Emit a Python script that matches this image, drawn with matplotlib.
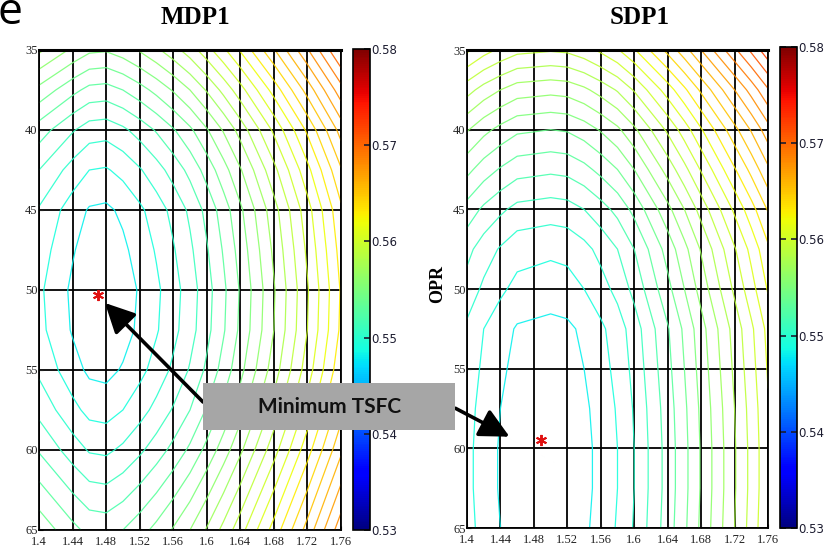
import numpy as np
import matplotlib.pyplot as plt
from matplotlib.patches import FancyArrowPatch, Rectangle
from matplotlib.colors import Normalize
from matplotlib.cm import ScalarMappable

# grid of the response surfaces (FPR along x, OPR along y)
fpr = [1.40, 1.42, 1.44, 1.46, 1.48, 1.50, 1.52, 1.54, 1.56, 1.58,
       1.60, 1.62, 1.64, 1.66, 1.68, 1.70, 1.72, 1.74, 1.76]
opr = [35, 37.5, 40, 42.5, 45, 47.5, 50, 52.5, 55, 57.5, 60, 62.5, 65]

tsfc_mdp1 = [
    [0.5572, 0.5565, 0.5558, 0.5552, 0.5551, 0.5555, 0.5561, 0.5568, 0.5576, 0.5585, 0.5596, 0.5608, 0.5621, 0.5635, 0.5649, 0.5664, 0.5679, 0.5695, 0.5711],
    [0.5547, 0.5540, 0.5533, 0.5527, 0.5526, 0.5530, 0.5536, 0.5543, 0.5551, 0.5560, 0.5571, 0.5583, 0.5596, 0.5610, 0.5624, 0.5639, 0.5654, 0.5670, 0.5686],
    [0.5525, 0.5518, 0.5511, 0.5505, 0.5504, 0.5508, 0.5514, 0.5521, 0.5529, 0.5538, 0.5549, 0.5561, 0.5574, 0.5588, 0.5602, 0.5617, 0.5632, 0.5648, 0.5664],
    [0.5510, 0.5503, 0.5496, 0.5490, 0.5489, 0.5493, 0.5499, 0.5506, 0.5514, 0.5523, 0.5534, 0.5546, 0.5559, 0.5573, 0.5587, 0.5602, 0.5617, 0.5633, 0.5649],
    [0.5499, 0.5492, 0.5485, 0.5479, 0.5478, 0.5482, 0.5488, 0.5495, 0.5503, 0.5512, 0.5523, 0.5535, 0.5548, 0.5562, 0.5576, 0.5591, 0.5606, 0.5622, 0.5638],
    [0.5495, 0.5488, 0.5481, 0.5475, 0.5474, 0.5478, 0.5484, 0.5491, 0.5499, 0.5508, 0.5519, 0.5531, 0.5544, 0.5558, 0.5572, 0.5587, 0.5602, 0.5618, 0.5634],
    [0.5492, 0.5485, 0.5478, 0.5472, 0.5471, 0.5475, 0.5481, 0.5488, 0.5496, 0.5505, 0.5516, 0.5528, 0.5541, 0.5555, 0.5569, 0.5584, 0.5599, 0.5615, 0.5631],
    [0.5493, 0.5486, 0.5479, 0.5473, 0.5472, 0.5476, 0.5482, 0.5489, 0.5497, 0.5506, 0.5517, 0.5529, 0.5542, 0.5556, 0.5570, 0.5585, 0.5600, 0.5616, 0.5632],
    [0.5498, 0.5491, 0.5484, 0.5478, 0.5477, 0.5481, 0.5487, 0.5494, 0.5502, 0.5511, 0.5522, 0.5534, 0.5547, 0.5561, 0.5575, 0.5590, 0.5605, 0.5621, 0.5637],
    [0.5507, 0.5500, 0.5493, 0.5487, 0.5486, 0.5490, 0.5496, 0.5503, 0.5511, 0.5520, 0.5531, 0.5543, 0.5556, 0.5570, 0.5584, 0.5599, 0.5614, 0.5630, 0.5646],
    [0.5519, 0.5512, 0.5505, 0.5499, 0.5498, 0.5502, 0.5508, 0.5515, 0.5523, 0.5532, 0.5543, 0.5555, 0.5568, 0.5582, 0.5596, 0.5611, 0.5626, 0.5642, 0.5658],
    [0.5533, 0.5526, 0.5519, 0.5513, 0.5512, 0.5516, 0.5522, 0.5529, 0.5537, 0.5546, 0.5557, 0.5569, 0.5582, 0.5596, 0.5610, 0.5625, 0.5640, 0.5656, 0.5672],
    [0.5547, 0.5540, 0.5533, 0.5527, 0.5526, 0.5530, 0.5536, 0.5543, 0.5551, 0.5560, 0.5571, 0.5583, 0.5596, 0.5610, 0.5624, 0.5639, 0.5654, 0.5670, 0.5686],
]

tsfc_sdp1 = [
    [0.5612, 0.5604, 0.5598, 0.5593, 0.5592, 0.5591, 0.5592, 0.5596, 0.5602, 0.5609, 0.5619, 0.5631, 0.5643, 0.5656, 0.5670, 0.5684, 0.5698, 0.5712, 0.5727],
    [0.5584, 0.5576, 0.5570, 0.5565, 0.5564, 0.5563, 0.5564, 0.5568, 0.5574, 0.5581, 0.5591, 0.5603, 0.5615, 0.5628, 0.5642, 0.5656, 0.5670, 0.5684, 0.5699],
    [0.5561, 0.5553, 0.5547, 0.5542, 0.5541, 0.5540, 0.5541, 0.5545, 0.5551, 0.5558, 0.5568, 0.5580, 0.5592, 0.5605, 0.5619, 0.5633, 0.5647, 0.5661, 0.5676],
    [0.5543, 0.5535, 0.5529, 0.5524, 0.5523, 0.5522, 0.5523, 0.5527, 0.5533, 0.5540, 0.5550, 0.5562, 0.5574, 0.5587, 0.5601, 0.5615, 0.5629, 0.5643, 0.5658],
    [0.5526, 0.5518, 0.5512, 0.5507, 0.5506, 0.5505, 0.5506, 0.5510, 0.5516, 0.5523, 0.5533, 0.5545, 0.5557, 0.5570, 0.5584, 0.5598, 0.5612, 0.5626, 0.5641],
    [0.5513, 0.5505, 0.5499, 0.5494, 0.5493, 0.5492, 0.5493, 0.5497, 0.5503, 0.5510, 0.5520, 0.5532, 0.5544, 0.5557, 0.5571, 0.5585, 0.5599, 0.5613, 0.5628],
    [0.5506, 0.5498, 0.5492, 0.5487, 0.5486, 0.5485, 0.5486, 0.5490, 0.5496, 0.5503, 0.5513, 0.5525, 0.5537, 0.5550, 0.5564, 0.5578, 0.5592, 0.5606, 0.5621],
    [0.5498, 0.5490, 0.5484, 0.5479, 0.5478, 0.5477, 0.5478, 0.5482, 0.5488, 0.5495, 0.5505, 0.5517, 0.5529, 0.5542, 0.5556, 0.5570, 0.5584, 0.5598, 0.5613],
    [0.5496, 0.5488, 0.5482, 0.5477, 0.5476, 0.5475, 0.5476, 0.5480, 0.5486, 0.5493, 0.5503, 0.5515, 0.5527, 0.5540, 0.5554, 0.5568, 0.5582, 0.5596, 0.5611],
    [0.5494, 0.5486, 0.5480, 0.5475, 0.5474, 0.5473, 0.5474, 0.5478, 0.5484, 0.5491, 0.5501, 0.5513, 0.5525, 0.5538, 0.5552, 0.5566, 0.5580, 0.5594, 0.5609],
    [0.5493, 0.5485, 0.5479, 0.5474, 0.5473, 0.5472, 0.5473, 0.5477, 0.5483, 0.5490, 0.5500, 0.5512, 0.5524, 0.5537, 0.5551, 0.5565, 0.5579, 0.5593, 0.5608],
    [0.5493, 0.5485, 0.5479, 0.5474, 0.5473, 0.5472, 0.5473, 0.5477, 0.5483, 0.5490, 0.5500, 0.5512, 0.5524, 0.5537, 0.5551, 0.5565, 0.5579, 0.5593, 0.5608],
    [0.5494, 0.5486, 0.5480, 0.5475, 0.5474, 0.5473, 0.5474, 0.5478, 0.5484, 0.5491, 0.5501, 0.5513, 0.5525, 0.5538, 0.5552, 0.5566, 0.5580, 0.5594, 0.5609],
]

min_mdp1 = (1.470, 50.3)
min_sdp1 = (1.489, 59.5)

xtick_vals = [1.40, 1.44, 1.48, 1.52, 1.56, 1.60, 1.64, 1.68, 1.72, 1.76]
xtick_labels = ['1.4', '1.44', '1.48', '1.52', '1.56', '1.6', '1.64', '1.68', '1.72', '1.76']
ytick_vals = [35, 40, 45, 50, 55, 60, 65]
cbar_ticks = [0.53, 0.54, 0.55, 0.56, 0.57, 0.58]
levels = np.round(np.arange(530, 581) / 1000, 3)

W, H = 831, 546
def fx(px):
    return px / W
def fy(py):
    return 1 - py / H

fig = plt.figure(figsize=(W / 100, H / 100), dpi=100)
norm = Normalize(0.53, 0.58)
serif = 'Liberation Serif'


def panel(rect, crect, z, star, title, title_x):
    ax = fig.add_axes(rect)
    ax.contour(fpr, opr, np.array(z), levels=levels, cmap='jet', norm=norm,
               linewidths=0.9, alpha=0.9)
    ax.plot(star[0], star[1], marker=(6, 2, 0), color='#e01010', ms=8, mew=1.4,
            ls='none', zorder=5)
    ax.set_xlim(1.40, 1.76)
    ax.set_ylim(65, 35)
    ax.set_xticks(xtick_vals)
    ax.set_xticklabels(xtick_labels)
    ax.set_yticks(ytick_vals)
    ax.grid(True, color='black', lw=1.3)
    ax.tick_params(direction='in', length=3, labelsize=9, colors='#222222')
    ax.tick_params(axis='x', pad=4)
    ax.tick_params(axis='y', pad=1)
    for lab in ax.get_xticklabels() + ax.get_yticklabels():
        lab.set_family(serif)
    for s in ax.spines.values():
        s.set_linewidth(1.3)
    ax.spines['top'].set_linewidth(2.2)

    cax = fig.add_axes(crect)
    sm = ScalarMappable(norm=norm, cmap='jet')
    cb = fig.colorbar(sm, cax=cax, ticks=cbar_ticks)
    cb.outline.set_linewidth(1.2)
    cax.tick_params(direction='in', length=4, width=1.2, left=True, right=True,
                    pad=1, labelsize=8.5, colors='#1c1c30')
    cax.set_yticklabels(['%.2f' % t for t in cbar_ticks])
    for lab in cax.get_yticklabels():
        lab.set_family('Liberation Sans Narrow')

    fig.text(title_x, fy(17), title, ha='center', va='center',
             fontsize=18, fontweight='bold', family=serif)
    return ax


ax1 = panel([fx(39), fy(530), fx(341) - fx(39), fy(50) - fy(530)],
            [fx(353), fy(530), fx(370) - fx(353), fy(49) - fy(530)],
            tsfc_mdp1, min_mdp1, 'MDP1', fx(195))
ax2 = panel([fx(467), fy(528), fx(768) - fx(467), fy(50) - fy(528)],
            [fx(780), fy(528), fx(797) - fx(780), fy(47) - fy(528)],
            tsfc_sdp1, min_sdp1, 'SDP1', fx(640))

fig.text(fx(438), fy(284), 'OPR', rotation=90, ha='center', va='center',
         fontsize=13, fontweight='bold', family=serif)

# cropped letter in the top-left corner of the source figure
fig.text(fx(-3), fy(-9), 'e', ha='left', va='top', fontsize=32, family='Open Sans')

# annotation box and arrows
for tail, head in [((205, 404), (103, 301)), ((453, 407), (512, 438))]:
    arr = FancyArrowPatch((fx(tail[0]), fy(tail[1])), (fx(head[0]), fy(head[1])),
                          transform=fig.transFigure,
                          arrowstyle='-|>,head_length=0.9,head_width=0.45',
                          mutation_scale=20, lw=2.6, color='black', zorder=10)
    fig.add_artist(arr)

box = Rectangle((fx(203), fy(430)), fx(455) - fx(203), fy(383) - fy(430),
                transform=fig.transFigure, fc='#a6a6a6', ec='none', zorder=11)
fig.add_artist(box)
fig.text(fx(330), fy(407), 'Minimum TSFC', ha='center', va='center',
         fontsize=15, fontweight='bold', family='Lato', color='#111111', zorder=12)

fig.savefig('out.png', dpi=100)
